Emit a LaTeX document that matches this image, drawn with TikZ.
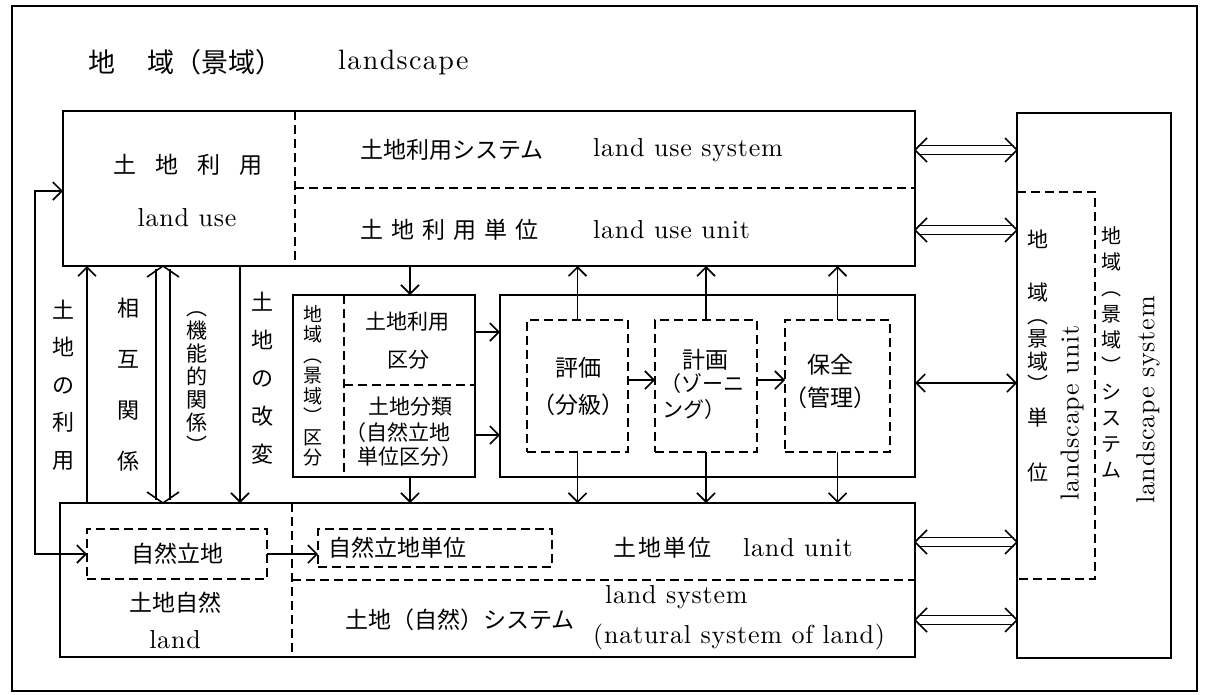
\documentclass[tikz,border=0pt]{standalone}
\usepackage{fontspec}
\setmainfont{lmroman10-regular.otf}[BoldFont=lmroman10-bold.otf,ItalicFont=lmroman10-italic.otf]
\newfontfamily\cjk{Noto Sans CJK JP}
\usetikzlibrary{arrows.meta}
\newcommand\dblh[2]{%
  \draw[dbl] ([shift={(3pt,4.5pt)}]#1) -- ([shift={(-3pt,4.5pt)}]#2);
  \draw[dbl] ([shift={(3pt,-4.5pt)}]#1) -- ([shift={(-3pt,-4.5pt)}]#2);
  \draw[dbl] ([shift={(12pt,12pt)}]#1) -- (#1) -- ([shift={(12pt,-12pt)}]#1);
  \draw[dbl] ([shift={(-12pt,12pt)}]#2) -- (#2) -- ([shift={(-12pt,-12pt)}]#2);
}
\newcommand\dblv[2]{% #1 top point, #2 bottom point
  \draw[dbl] ([shift={(-7pt,-3pt)}]#1) -- ([shift={(-7pt,3pt)}]#2);
  \draw[dbl] ([shift={(7pt,-3pt)}]#1) -- ([shift={(7pt,3pt)}]#2);
  \draw[dbl] ([shift={(-16pt,-11pt)}]#1) -- (#1) -- ([shift={(16pt,-11pt)}]#1);
  \draw[dbl] ([shift={(-16pt,11pt)}]#2) -- (#2) -- ([shift={(16pt,11pt)}]#2);
}
\begin{document}
\begin{tikzpicture}[x=1pt,y=-1pt,
  >={Straight Barb[length=9pt,width=18pt]},
  ln/.style={line width=1.6pt},
  dbl/.style={line width=1.6pt},
  dsh/.style={line width=1.2pt,dash pattern=on 9pt off 5pt},
  box/.style={draw,line width=1.6pt,inner sep=0pt,outer sep=0pt,anchor=north west},
  dbox/.style={draw,dsh,inner sep=0pt,outer sep=0pt,anchor=north west},
  jp/.style={font=\cjk\fontsize{23}{27}\selectfont,inner sep=0pt},
  jps/.style={font=\cjk\fontsize{21}{24}\selectfont,inner sep=0pt},
  en/.style={font=\fontsize{26}{30}\selectfont\addfontfeatures{LetterSpace=3},inner sep=0pt},
  vt/.style={align=center,inner sep=0pt},
]
\useasboundingbox[fill=white] (0,0) rectangle (1205,694);
\draw[line width=1.2pt] (12,6) rectangle (1197,691);

% title
\node[anchor=west,font=\cjk\fontsize{27}{30}\selectfont,inner sep=0pt] (t1) at (88,62) {地\hspace{1.2em}域（景域）};
\node[anchor=west,font=\fontsize{28}{30}\selectfont\addfontfeatures{LetterSpace=5},inner sep=0pt] (t2) at (338,62) {landscape};

% main boxes
\node[box,minimum width=852pt,minimum height=155pt] (top) at (63,111) {};
\node[box,minimum width=154pt,minimum height=545pt] (lsc) at (1017,113) {};
\node[box,minimum width=855pt,minimum height=154pt] (bot) at (60,503) {};
\node[box,minimum width=182pt,minimum height=182pt] (kubun) at (293,295) {};
\node[box,minimum width=415pt,minimum height=182pt] (mid) at (500,295) {};
\node[dbox,minimum width=101pt,minimum height=132pt] (hyoka) at (527,320) {};
\node[dbox,minimum width=102pt,minimum height=132pt] (keikaku) at (655,320) {};
\node[dbox,minimum width=105pt,minimum height=132pt] (hozen) at (785,320) {};
\node[dbox,minimum width=180pt,minimum height=50pt,font=\cjk\fontsize{23}{27}\selectfont] (shizen) at (87,529) {自然立地};
\node[dbox,minimum width=234pt,minimum height=38pt] (stani) at (318,529) {};

% dividers
\draw[dsh] (295,111) -- (295,266);
\draw[dsh] (295,188) -- (915,188);
\draw[dsh] (292,503) -- (292,657);
\draw[dsh] (292,580) -- (915,580);
\draw[dsh] (344,295) -- (344,477);
\draw[dsh] (344,385) -- (475,385);
\draw[dsh] (1017,192) -- (1095,192) -- (1095,579) -- (1017,579);

% helper coordinates
\coordinate (xa) at (87,0);
\coordinate (xb) at (163,0);
\coordinate (xc) at (240,0);
\coordinate (xk) at (410,0);
\coordinate (y150) at (0,150);
\coordinate (y230) at (0,230);
\coordinate (y542) at (0,542);
\coordinate (y620) at (0,620);
\coordinate (y332) at (0,332);
\coordinate (y435) at (0,435);
\coordinate (y380) at (0,380);
\coordinate (y383) at (0,383);
\coordinate (lp) at (35,191);

% connectors
\draw[ln,->] (bot.north -| xa) -- (top.south -| xa);
\draw[ln,->] (top.south -| xc) -- (bot.north -| xc);
\coordinate (va) at (top.south -| xb);
\coordinate (vb) at (bot.north -| xb);
\dblv{va}{vb}
\draw[ln,<->] (top.west |- lp) -- (lp) |- (shizen.west);
\draw[ln,->] (shizen.east) -- (shizen.east -| stani.west);
\draw[ln,->] (top.south -| xk) -- (kubun.north -| xk);
\draw[ln,->] (kubun.south -| xk) -- (bot.north -| xk);
\draw[ln,->] (kubun.east |- y332) -- (mid.west |- y332);
\draw[ln,->] (kubun.east |- y435) -- (mid.west |- y435);
\draw[ln,->] (hyoka.east |- y380) -- (keikaku.west |- y380);
\draw[ln,->] (keikaku.east |- y380) -- (hozen.west |- y380);
\draw[ln,->] (hyoka.north) -- (top.south -| hyoka.north);
\draw[ln,->] (hyoka.south) -- (bot.north -| hyoka.south);
\draw[ln,->] (keikaku.north) -- (top.south -| keikaku.north);
\draw[ln,->] (keikaku.south) -- (bot.north -| keikaku.south);
\draw[ln,->] (hozen.north) -- (top.south -| hozen.north);
\draw[ln,->] (hozen.south) -- (bot.north -| hozen.south);
\draw[ln,<->] (mid.east |- y383) -- (lsc.west |- y383);
\coordinate (h1a) at (top.east |- y150); \coordinate (h1b) at (lsc.west |- y150);
\coordinate (h2a) at (top.east |- y230); \coordinate (h2b) at (lsc.west |- y230);
\coordinate (h3a) at (bot.east |- y542); \coordinate (h3b) at (lsc.west |- y542);
\coordinate (h4a) at (bot.east |- y620); \coordinate (h4b) at (lsc.west |- y620);
\dblh{h1a}{h1b}
\dblh{h2a}{h2b}
\dblh{h3a}{h3b}
\dblh{h4a}{h4b}

% top box texts
\node[jp] (tu1) at (188,165) {土\hspace{19pt}地\hspace{19pt}利\hspace{19pt}用};
\node[en] (tu2) at (187,218) {land use};
\node[jp,anchor=west] (tu3) at (360,150) {土地利用システム};
\node[en,anchor=west] (tu4) at (593,150) {land use system};
\node[jp,anchor=west] (tu5) at (360,230) {土\hspace{8pt}地\hspace{8pt}利\hspace{8pt}用\hspace{8pt}単\hspace{8pt}位};
\node[en,anchor=west] (tu6) at (593,230) {land use unit};

% left vertical labels
\node[vt,font=\cjk\fontsize{22}{37.5}\selectfont] (v1) at (63,385) {土\\地\\の\\利\\用};
\node[vt,font=\cjk\fontsize{22}{51}\selectfont] (v2) at (128,385) {相\\互\\関\\係};
\node[vt,font=\cjk\fontsize{21}{23}\selectfont] (v3) at (197,383) {︵\\機\\能\\的\\関\\係\\︶};
\node[vt,font=\cjk\fontsize{22}{38}\selectfont] (v4) at (262,378) {土\\地\\の\\改\\変};

% kubun box texts
\node[vt,font=\cjk\fontsize{19}{20.5}\selectfont] (k0) at (313,386) {地\\域\\︵\\景\\域\\︶\\区\\分};
\node[jps] (k1) at (407,322) {土地利用};
\node[jps] (k2) at (408,360) {区分};
\node[jps] (k3) at (410,407) {土地分類};
\node[jps] (k4) at (398,433) {（自然立地};
\node[jps] (k5) at (410,457) {単位区分）};

% evaluation / planning / conservation
\node[jp] (e1) at (578,368) {評価};
\node[jp] (e2) at (578,405) {（分級）};
\node[jp] (p1) at (705,360) {計画};
\node[jps,anchor=west] (p2) at (660,384) {（ゾーニ};
\node[jps,anchor=west] (p3) at (662,410) {ング）};
\node[jp] (c1) at (830,365) {保全};
\node[jp] (c2) at (830,398) {（管理）};

% bottom box texts
\node[jp,anchor=west] (b1) at (328,548) {自然立地単位};
\node[jp,anchor=west] (b2) at (613,548) {土\hspace{2pt}地\hspace{2pt}単\hspace{2pt}位};
\node[en,anchor=west] (b3) at (743,548) {land unit};
\node[jp] (b4) at (175,603) {土地自然};
\node[en] (b5) at (175,640) {land};
\node[jp,anchor=west] (b6) at (345,620) {土地（自然）システム};
\node[en,anchor=west] (b7) at (605,597) {land system};
\node[en,anchor=west] (b8) at (593,637) {(natural system of land)};

% landscape box texts
\node[vt,font=\cjk\fontsize{21}{23}\selectfont] (l1) at (1038,356) {地\\[30pt]域\\︵\\景\\域\\︶\\[10pt]単\\[32pt]位};
\node[en,rotate=90] (l2) at (1072,413) {landscape unit};
\node[vt,font=\cjk\fontsize{20}{26}\selectfont] (l3) at (1111,352) {地\\域\\︵\\景\\域\\︶\\シ\\ス\\テ\\ム};
\node[en,rotate=90] (l4) at (1148,400) {landscape system};
\end{tikzpicture}
\end{document}
